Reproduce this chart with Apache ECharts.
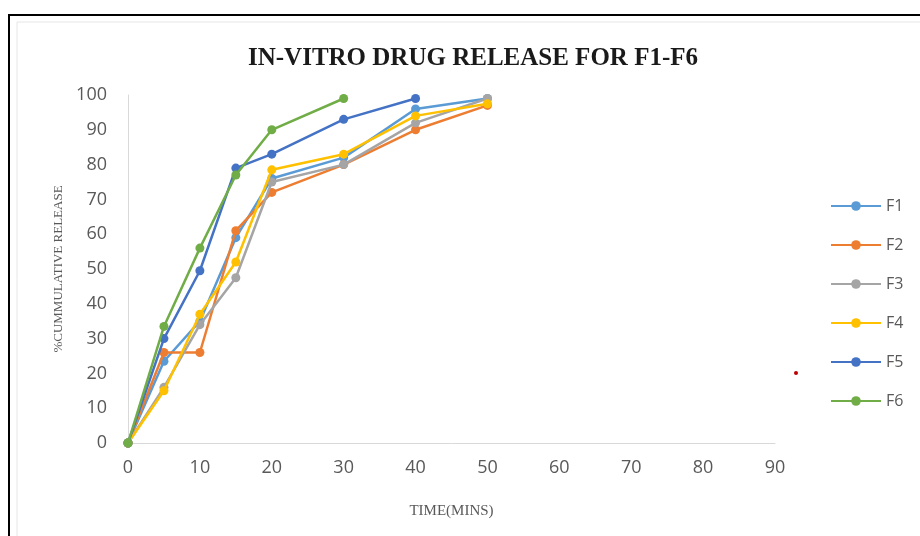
<!DOCTYPE html>
<html><head><meta charset="utf-8">
<script src="https://cdn.jsdelivr.net/npm/echarts@6/dist/echarts.min.js"></script>
<style>html,body{margin:0;padding:0;background:#fff}#c{width:920px;height:536px}</style>
</head><body><div id="c"></div>
<script>
// Data (time in minutes, % cumulative release)
const times = [0, 5, 10, 15, 20, 30, 40, 50];
const F1 = [0, 23.5, 35, 59, 76, 82, 96, 99];
const F2 = [0, 26, 26, 61, 72, 80, 90, 97];
const F3 = [0, 16, 34, 47.5, 75, 80, 92, 99];
const F4 = [0, 15, 37, 52, 78.5, 83, 94, 97.5];
const F5 = [0, 30, 49.5, 79, 83, 93, 99];
const F6 = [0, 33.5, 56, 77, 90, 99];
const seriesNames = ['F1', 'F2', 'F3', 'F4', 'F5', 'F6'];
const seriesValues = [F1, F2, F3, F4, F5, F6];
const colors = ['#5B9BD5', '#ED7D31', '#A5A5A5', '#FFC000', '#4472C4', '#70AD47'];

const chart = echarts.init(document.getElementById('c'), null, {renderer: 'canvas'});
const sansFont = '"Open Sans", "Liberation Sans", sans-serif';
const serifFont = '"Liberation Serif", "DejaVu Serif", serif';

const series = seriesNames.map((name, k) => ({
  name: name,
  type: 'line',
  data: seriesValues[k].map((v, i) => [times[i], v]),
  symbol: 'circle',
  symbolSize: 9,
  showSymbol: true,
  lineStyle: {width: 2.5, color: colors[k]},
  itemStyle: {color: colors[k]},
  emphasis: {disabled: true},
  animation: false,
  z: 2 + k
}));

chart.setOption({
  animation: false,
  backgroundColor: '#ffffff',
  color: colors,
  title: {
    text: 'IN-VITRO DRUG RELEASE FOR F1-F6',
    left: 468,
    top: 41,
    textAlign: 'center',
    textStyle: {fontFamily: serifFont, fontWeight: 'bold', fontSize: 25, color: '#1a1a1a'}
  },
  grid: {left: 128, right: 145, top: 95, bottom: 93, containLabel: false},
  legend: {
    orient: 'vertical',
    left: 825,
    top: 193,
    itemWidth: 50,
    itemHeight: 12,
    itemGap: 23,
    data: seriesNames,
    textStyle: {fontFamily: sansFont, fontSize: 16, color: '#595959', lineHeight: 16}
  },
  xAxis: {
    type: 'value',
    min: 0, max: 90, interval: 10,
    name: 'TIME(MINS)',
    nameLocation: 'middle',
    nameGap: 61,
    nameTextStyle: {fontFamily: serifFont, fontSize: 15, color: '#595959'},
    axisLine: {show: true, lineStyle: {color: '#D9D9D9', width: 1}},
    axisTick: {show: false},
    splitLine: {show: false},
    axisLabel: {margin: 16, fontFamily: sansFont, fontSize: 18, color: '#595959'}
  },
  yAxis: {
    type: 'value',
    min: 0, max: 100, interval: 10,
    name: '%CUMMULATIVE RELEASE',
    nameLocation: 'middle',
    nameRotate: 90,
    nameGap: 60,
    nameTextStyle: {fontFamily: serifFont, fontSize: 13, color: '#595959'},
    axisLine: {show: true, lineStyle: {color: '#D9D9D9', width: 1}},
    axisTick: {show: false},
    splitLine: {show: false},
    axisLabel: {margin: 21, fontFamily: sansFont, fontSize: 18, color: '#595959'}
  },
  graphic: [
    {type: 'rect', shape: {x: 9, y: 15, width: 1000, height: 700}, style: {fill: 'none', stroke: '#000', lineWidth: 2}, silent: true},
    {type: 'rect', shape: {x: 17, y: 22, width: 1000, height: 700}, style: {fill: 'none', stroke: '#e6e6e6', lineWidth: 1}, silent: true},
    {type: 'circle', shape: {cx: 796, cy: 373, r: 2}, style: {fill: '#C00000'}, silent: true}
  ],
  series: series
});
</script>
</body></html>
